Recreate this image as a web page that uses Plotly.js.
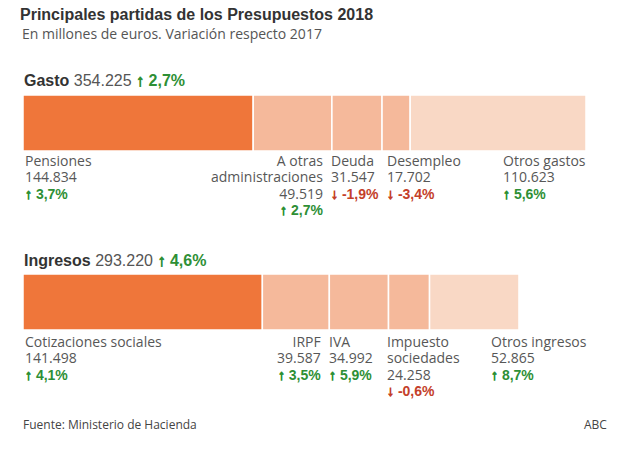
<!DOCTYPE html>
<html>
<head>
<meta charset="utf-8">
<script src="https://cdn.plot.ly/plotly-3.0.1.min.js"></script>
<style>html,body{margin:0;padding:0;background:#fff;}#chart{width:620px;height:450px;}</style>
</head>
<body>
<div id="chart"></div>
<script>
// ---- DATA ----
const gastoNames = [["Pensiones"], ["A otras", "administraciones"], ["Deuda"], ["Desempleo"], ["Otros gastos"]];
const gastoValues = [144834, 49519, 31547, 17702, 110623];
const gastoChange = [3.7, 2.7, -1.9, -3.4, 5.6];
const gastoTotal = 354225;
const gastoTotalChange = 2.7;

const ingresosNames = [["Cotizaciones sociales"], ["IRPF"], ["IVA"], ["Impuesto", "sociedades"], ["Otros ingresos"]];
const ingresosValues = [141498, 39587, 34992, 24258, 52865];
const ingresosChange = [4.1, 3.5, 5.9, -0.6, 8.7];
const ingresosTotal = 293220;
const ingresosTotalChange = 4.6;

// ---- STYLE / LAYOUT CONFIG ----
const W = 620, H = 450;
const C_DARK = '#ef763a', C_MID = '#f5b99b', C_LIGHT = '#f9d8c5';
const segColors = [C_DARK, C_MID, C_MID, C_MID, C_LIGHT];
const GREEN = '#2e8f35', RED = '#c4402a';
const SANS = '"Open Sans", sans-serif';
const ARIAL = '"Liberation Sans", Arial, sans-serif';

const gastoPlace = [
  {anchor: 'left', ref: 'start', dx: 1},
  {anchor: 'right', ref: 'end', dx: -8},
  {anchor: 'left', ref: 'start', dx: -2},
  {anchor: 'left', ref: 'start', dx: 4},
  {anchor: 'left', ref: 'start', dx: 92}
];
const ingresosPlace = [
  {anchor: 'left', ref: 'start', dx: 1},
  {anchor: 'right', ref: 'end', dx: -7},
  {anchor: 'left', ref: 'start', dx: -1},
  {anchor: 'left', ref: 'start', dx: -2.5},
  {anchor: 'left', ref: 'start', dx: 60}
];

function fmtNum(v) { return String(v).replace(/\B(?=(\d{3})+(?!\d))/g, '.'); }
function pctColor(v) { return v >= 0 ? GREEN : RED; }
function fmtPct(v) {
  const arrow = v >= 0 ? '↑' : '↓';
  return '<span style="stroke:' + pctColor(v) + ';stroke-width:0.9px">' + arrow + '</span> ' +
         v.toFixed(1).replace('.', ',') + '%';
}
function py(p) { return 1 - p / H; }
function starts(vals) { const s = []; let acc = 0; vals.forEach(v => { s.push(acc); acc += v; }); return s; }

const gStarts = starts(gastoValues);
const iStarts = starts(ingresosValues);

const traces = [
  {
    type: 'bar', orientation: 'h', xaxis: 'x', yaxis: 'y',
    y: gastoValues.map(() => 0), x: gastoValues, base: gStarts,
    width: 1,
    marker: {color: segColors, line: {color: '#ffffff', width: 1.5}},
    hoverinfo: 'skip'
  },
  {
    type: 'bar', orientation: 'h', xaxis: 'x2', yaxis: 'y2',
    y: ingresosValues.map(() => 0), x: ingresosValues, base: iStarts,
    width: 1,
    marker: {color: segColors, line: {color: '#ffffff', width: 1.5}},
    hoverinfo: 'skip'
  }
];

const annotations = [];

// Block labels: base font 12.5 sets the line spacing (1.3em = 16.25px); spans draw the text at 14px.
function addLabels(names, values, changes, st, place, xref, topY) {
  names.forEach((nm, i) => {
    const p = place[i];
    const x = p.ref === 'start' ? st[i] : st[i] + values[i];
    const lines = nm.map(t => '<span style="font-size:14px">' + t + '</span>');
    lines.push('<span style="font-size:14px">' + fmtNum(values[i]) + '</span>');
    lines.push('<span style="font-size:14px;font-family:Liberation Sans, Arial, sans-serif;font-weight:bold;color:' +
               pctColor(changes[i]) + '">' + fmtPct(changes[i]) + '</span>');
    annotations.push({
      xref: xref, yref: 'paper', x: x, xshift: p.dx,
      y: py(topY), yanchor: 'top',
      xanchor: p.anchor, align: p.anchor,
      text: lines.join('<br>'),
      font: {family: SANS, size: 12.5, color: '#575757'},
      showarrow: false, borderpad: 0
    });
  });
}

addLabels(gastoNames, gastoValues, gastoChange, gStarts, gastoPlace, 'x', 150.3);
addLabels(ingresosNames, ingresosValues, ingresosChange, iStarts, ingresosPlace, 'x2', 330.5);

function header(label, total, chg, yPix) {
  annotations.push({
    xref: 'paper', yref: 'paper', x: 23 / W, y: py(yPix), xanchor: 'left', yanchor: 'middle',
    showarrow: false, borderpad: 0,
    font: {family: ARIAL, size: 16, color: '#333333'},
    text: '<b>' + label + '</b> <span style="color:#555555">' + fmtNum(total) + '</span> ' +
          '<span style="color:' + pctColor(chg) + '"><b>' + fmtPct(chg) + '</b></span>'
  });
}
header('Gasto', gastoTotal, gastoTotalChange, 80);
header('Ingresos', ingresosTotal, ingresosTotalChange, 260);

// subtitle
annotations.push({
  xref: 'paper', yref: 'paper', x: 21 / W, y: py(33), xanchor: 'left', yanchor: 'middle',
  showarrow: false, borderpad: 0,
  text: 'En millones de euros. Variación respecto 2017',
  font: {family: SANS, size: 14, color: '#555555'}
});
// footer
annotations.push({
  xref: 'paper', yref: 'paper', x: 22 / W, y: py(424), xanchor: 'left', yanchor: 'middle',
  showarrow: false, borderpad: 0,
  text: 'Fuente: Ministerio de Hacienda',
  font: {family: SANS, size: 12, color: '#444444'}
});
annotations.push({
  xref: 'paper', yref: 'paper', x: 608 / W, y: py(424), xanchor: 'right', yanchor: 'middle',
  showarrow: false, borderpad: 0,
  text: 'ABC',
  font: {family: SANS, size: 12, color: '#444444'}
});

const hidden = {visible: false, fixedrange: true, showgrid: false, zeroline: false};

const layout = {
  width: W, height: H,
  margin: {l: 0, r: 0, t: 0, b: 0, pad: 0},
  paper_bgcolor: '#ffffff', plot_bgcolor: '#ffffff',
  showlegend: false,
  barmode: 'overlay',
  title: {
    text: '<b>Principales partidas de los Presupuestos 2018</b>',
    x: 20 / W, xanchor: 'left', xref: 'paper',
    y: py(14), yanchor: 'middle', yref: 'paper',
    font: {family: ARIAL, size: 16, color: '#333333'}
  },
  xaxis: Object.assign({}, hidden, {domain: [23 / W, 586 / W], range: [0, gastoTotal], anchor: 'y'}),
  yaxis: Object.assign({}, hidden, {domain: [py(151), py(95)], range: [-0.5, 0.5], anchor: 'x'}),
  xaxis2: Object.assign({}, hidden, {domain: [23 / W, 519 / W], range: [0, ingresosTotal], anchor: 'y2'}),
  yaxis2: Object.assign({}, hidden, {domain: [py(330), py(274)], range: [-0.5, 0.5], anchor: 'x2'}),
  annotations: annotations
};

Plotly.newPlot('chart', traces, layout, {displayModeBar: false, staticPlot: true});
</script>
</body>
</html>
